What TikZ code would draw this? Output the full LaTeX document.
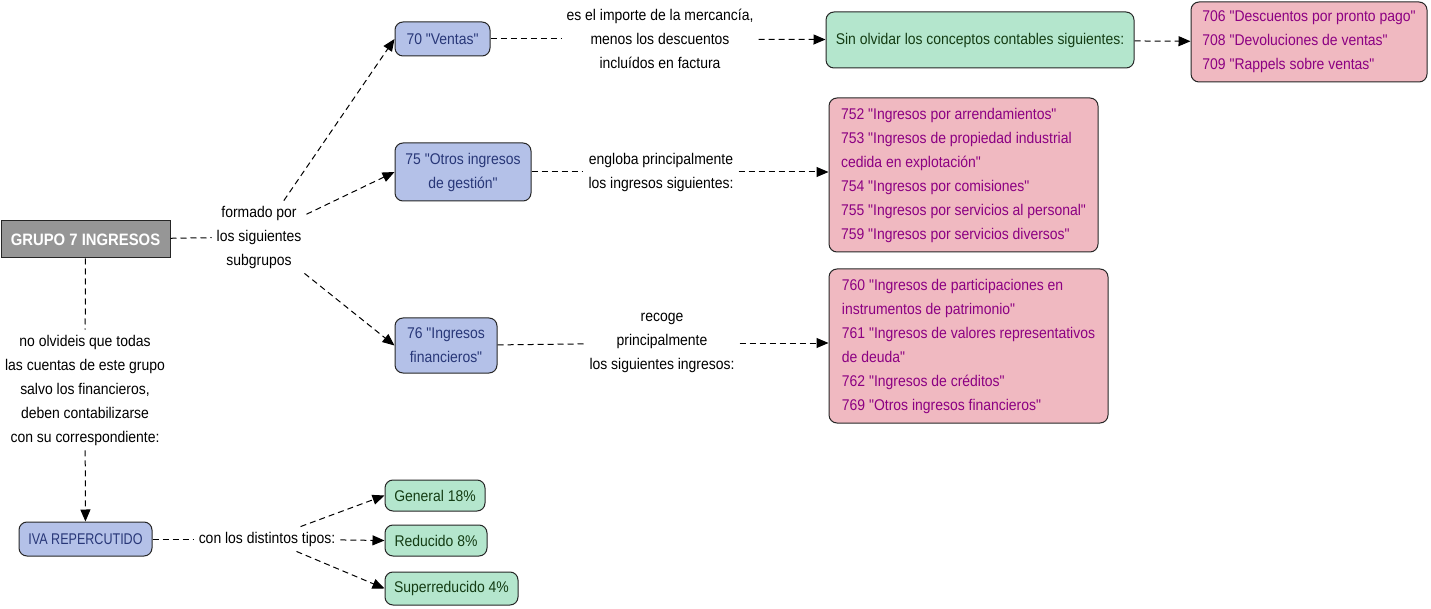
\documentclass[tikz,border=0pt]{standalone}
\usepackage{fontspec}
\usepackage{graphicx}
\setmainfont[FakeStretch=0.9,Ligatures=TeXOff]{Liberation Sans}
\newfontfamily\grpfont[FakeStretch=0.9]{Liberation Sans}
\usetikzlibrary{arrows.meta}
\definecolor{blueF}{RGB}{180,193,232}
\definecolor{blueT}{RGB}{40,55,120}
\definecolor{greenF}{RGB}{180,230,205}
\definecolor{greenT}{RGB}{20,60,20}
\definecolor{pinkF}{RGB}{240,185,193}
\definecolor{pinkT}{RGB}{140,0,130}
\definecolor{grayF}{RGB}{150,150,150}
\tikzset{
  base/.style={font=\fontsize{15.5}{24}\selectfont},
  box/.style={base, draw=black!85, line width=1pt, rounded corners=8pt, inner xsep=8pt, inner ysep=5pt},
  bluebox/.style={box, fill=blueF, text=blueT, align=center},
  greenbox/.style={box, fill=greenF, text=greenT, align=center},
  pinkbox/.style={box, fill=pinkF, text=pinkT, align=left},
  txt/.style={base, align=center, inner sep=5pt},
  dl/.style={line width=1pt, dash pattern=on 6pt off 4pt},
  da/.style={dl, -{Triangle[length=12pt,width=10pt]}},
}
\begin{document}
\begin{tikzpicture}[x=1pt,y=-1pt]
\useasboundingbox (0,0) rectangle (1431,609);
% nodes
\node[draw=black!85, line width=1pt, fill=grayF, text=white, minimum width=169pt, minimum height=37pt, inner sep=0pt, font=\grpfont\bfseries\fontsize{16.5}{20}\selectfont] (grupo) at (85.5,239.5) {GRUPO 7 INGRESOS};
\node[txt] (formado) at (259,237) {formado por\\los siguientes\\subgrupos};
\node[bluebox, minimum width=95pt, minimum height=34pt] (v70) at (442.5,39) {70 "Ventas"};
\node[bluebox, minimum width=136pt, minimum height=58pt] (g75) at (463,172) {75 "Otros ingresos\\de gestión"};
\node[bluebox, minimum width=102pt, minimum height=55pt] (f76) at (446,345.5) {76 "Ingresos\\financieros"};
\node[txt] (t1) at (660,39) {es el importe de la mercancía,\\menos los descuentos\\incluídos en factura};
\node[txt] (t2) at (661,172) {engloba principalmente\\los ingresos siguientes:};
\node[txt] (t3) at (662,343) {recoge\\principalmente\\los siguientes ingresos:};
\node[greenbox, minimum width=308pt, minimum height=56pt] (sin) at (980,40) {Sin olvidar los conceptos contables siguientes:};
\node[pinkbox, minimum width=236pt, minimum height=80pt] (p1) at (1309,42) {706 "Descuentos por pronto pago"\\708 "Devoluciones de ventas"\\709 "Rappels sobre ventas"};
\node[pinkbox, minimum width=269pt, minimum height=154pt] (p2) at (963.5,175) {752 "Ingresos por arrendamientos"\\753 "Ingresos de propiedad industrial\\cedida en explotación"\\754 "Ingresos por comisiones"\\755 "Ingresos por servicios al personal"\\759 "Ingresos por servicios diversos"};
\node[pinkbox, minimum width=279pt, minimum height=154pt] (p3) at (968.5,346) {760 "Ingresos de participaciones en\\instrumentos de patrimonio"\\761 "Ingresos de valores representativos\\de deuda"\\762 "Ingresos de créditos"\\769 "Otros ingresos financieros"};
\node[txt] (noolv) at (85,390) {no olvideis que todas\\las cuentas de este grupo\\salvo los financieros,\\deben contabilizarse\\con su correspondiente:};
\node[bluebox, minimum width=133pt, minimum height=34pt, inner xsep=2pt] (iva) at (85.5,539) {\scalebox{0.9}[1]{IVA REPERCUTIDO}};
\node[txt] (con) at (267,539) {con los distintos tipos:};
\node[greenbox, minimum width=100pt, minimum height=31pt] (gen) at (435,495.5) {General 18\%};
\node[greenbox, minimum width=102pt, minimum height=31pt] (red) at (436,540.5) {Reducido 8\%};
\node[greenbox, minimum width=133pt, minimum height=33pt] (sup) at (451.5,588.5) {Superreducido 4\%};
% connectors
\draw[dl] (grupo) -- (formado);
\draw[da] (formado) -- (v70.west);
\draw[da] (formado) -- (g75.west);
\draw[da] (formado) -- (f76.west);
\draw[dl] (v70) -- (t1);
\draw[da] (t1) -- (sin);
\draw[da] (sin) -- (p1);
\draw[dl] (g75) -- (t2);
\draw[da] (t2) -- (t2 -| p2.west);
\draw[dl] (f76) -- (t3);
\draw[da] (t3.east) -- (t3.east -| p3.west);
\draw[dl] (grupo) -- (noolv);
\draw[da] (noolv) -- (iva);
\draw[dl] (iva) -- (con);
\draw[da] (con) -- (gen.west);
\draw[da] (con) -- (red.west);
\draw[da] (con) -- (sup.west);
\end{tikzpicture}
\end{document}
